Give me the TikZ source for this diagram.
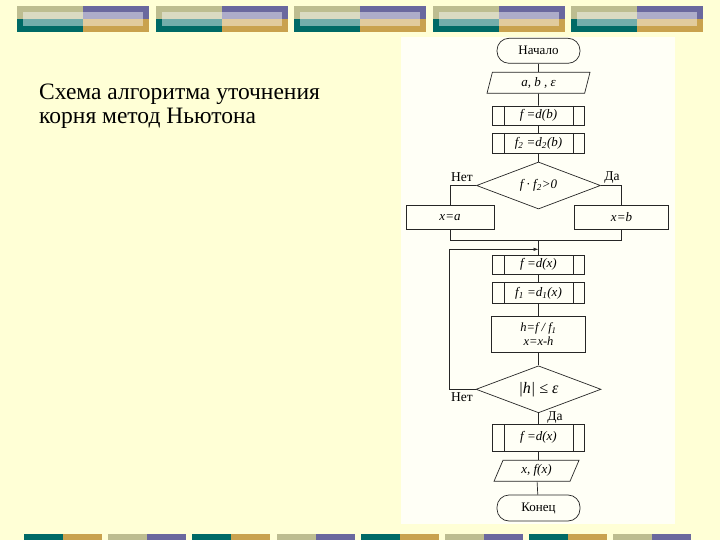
\documentclass[tikz,border=0pt]{standalone}
\usepackage{fontspec}
\setmainfont{Liberation Serif}
\usetikzlibrary{shapes,arrows,positioning,calc,arrows.meta}

\definecolor{bgyellow}{HTML}{FFFFD6}
\definecolor{panelwhite}{HTML}{FFFFF6}
\definecolor{barteal}{HTML}{006A66}
\definecolor{bargold}{HTML}{C9A24E}
\definecolor{barsage}{HTML}{BDBD90}
\definecolor{barpurple}{HTML}{6A689E}

\begin{document}
\begin{tikzpicture}[x=1pt, y=-1pt,
    flow/.style={line width=0.7pt, draw=black!85},
    term/.style={flow, rectangle, rounded corners=12pt, minimum width=83pt, minimum height=25pt, inner sep=0pt, font=\fontsize{13}{14}\selectfont},
    io/.style={flow, trapezium, trapezium stretches body, trapezium left angle=64, trapezium right angle=116, minimum width=103pt, minimum height=21pt, inner sep=0pt, font=\fontsize{13}{14}\selectfont\itshape},
    box/.style={flow, rectangle, minimum width=92pt, minimum height=19pt, inner sep=0pt, font=\fontsize{13}{14}\selectfont\itshape},
    subr/.style={box, path picture={
        \draw[flow] ([xshift=11.5pt]path picture bounding box.north west) -- ([xshift=11.5pt]path picture bounding box.south west)
                    ([xshift=-11.5pt]path picture bounding box.north east) -- ([xshift=-11.5pt]path picture bounding box.south east);}},
    cond/.style={flow, diamond, aspect=2.6, minimum width=124pt, minimum height=47pt, inner sep=0pt, font=\fontsize{13}{14}\selectfont\itshape},
    lbl/.style={inner sep=0pt, font=\fontsize{13.5}{14}\selectfont}]

    % page
    \useasboundingbox (0,0) rectangle (720,540);
    \fill[bgyellow] (0,0) rectangle (720,540);

    % top bars
    \foreach \i in {0,...,4} {
        \pgfmathsetmacro\bx{17+138.5*\i}
        \fill[barsage] (\bx,6) rectangle (\bx+66,19);
        \fill[barpurple] (\bx+66,6) rectangle (\bx+132,19);
        \fill[barteal] (\bx,19) rectangle (\bx+66,32);
        \fill[bargold] (\bx+66,19) rectangle (\bx+132,32);
        \fill[white, fill opacity=0.45] (\bx+6,12) rectangle (\bx+126,26);
    }

    % bottom bars
    \foreach \i in {0,2,4,6} {
        \pgfmathsetmacro\bx{24+84.2*\i}
        \fill[barteal] (\bx,534) rectangle (\bx+39,540);
        \fill[bargold] (\bx+39,534) rectangle (\bx+78,540);
    }
    \foreach \i in {1,3,5,7} {
        \pgfmathsetmacro\bx{24+84.2*\i}
        \fill[barsage] (\bx,534) rectangle (\bx+39,540);
        \fill[barpurple] (\bx+39,534) rectangle (\bx+78,540);
    }

    % title
    \node[anchor=north west, align=left, inner sep=0pt, font=\fontsize{23.5}{24}\selectfont] (title) at (39,84)
        {Схема алгоритма уточнения\\корня метод Ньютона};

    % flowchart panel
    \fill[panelwhite] (400.5,37) rectangle (675,523.5);

    \node[term] (start) at (538.5,50.8) {Начало};
    \node[io] (inab) at (538.5,82.8) {a, b ,  ε};
    \node[subr] (fb) at (538.5,115.5) {f =d(b)};
    \node[subr, minimum height=20pt] (f2b) at (538.5,143) {f\textsubscript{2} =d\textsubscript{2}(b)};
    \node[cond] (d1) at (538.5,185.5) {f · f\textsubscript{2}>0};
    \node[box, minimum width=88pt, minimum height=23.5pt] (xa) at (450,217.5) {x=a};
    \node[box, minimum width=94pt, minimum height=24pt] (xb) at (621.5,217.5) {x=b};
    \node[lbl] (no1) at (462,177) {Нет};
    \node[lbl] (yes1) at (612,178) {Да};

    \coordinate (mrg) at (538.5,240.8);
    \coordinate (back) at (538.5,249.3);
    \coordinate (lp) at (449.3,249.3);

    \node[subr] (fx) at (538.5,264.5) {f =d(x)};
    \node[subr, minimum height=21pt] (f1x) at (538.5,293) {f\textsubscript{1} =d\textsubscript{1}(x)};
    \node[box, minimum width=94.6pt, minimum height=36pt, align=center, font=\fontsize{12.5}{14}\selectfont\itshape] (hb) at (538.5,334)
        {h=f / f\textsubscript{1}\\x=x-h};
    \node[cond, minimum width=125pt, font=\fontsize{16}{17}\selectfont\itshape] (d2) at (538.5,389.3) {|h| ≤ ε};
    \node[lbl] (no2) at (462,397) {Нет};
    \node[lbl] (yes2) at (555,417.5) {Да};
    \node[subr, minimum height=26.7pt] (fx2) at (538.5,437.7) {f =d(x)};
    \node[io, trapezium left angle=53, trapezium right angle=127, minimum width=85pt] (outx) at (536.5,470.8) {x, f(x)};
    \node[term, minimum height=26pt] (stop) at (538.5,508) {Конец};

    % connectors
    \draw[flow] (start) -- (inab);
    \draw[flow] (inab) -- (fb);
    \draw[flow] (fb) -- (f2b);
    \draw[flow] (f2b) -- (d1);
    \draw[flow] (d1.west) -| (xa.north);
    \draw[flow] (d1.east) -| (xb.north);
    \draw[flow] (xa.south) |- (mrg);
    \draw[flow] (xb.south) |- (mrg);
    \draw[flow] (mrg) -- (fx);
    \draw[flow] (fx) -- (f1x);
    \draw[flow] (f1x) -- (hb);
    \draw[flow] (hb) -- (d2);
    \draw[flow] (d2) -- (fx2);
    \draw[flow] (fx2) -- (fx2 |- outx.north);
    \draw[flow] (outx) -- (stop);
    \draw[flow, -{Latex[length=5pt,width=3.5pt]}] (d2.west) -| (lp) -- (back);
\end{tikzpicture}
\end{document}
